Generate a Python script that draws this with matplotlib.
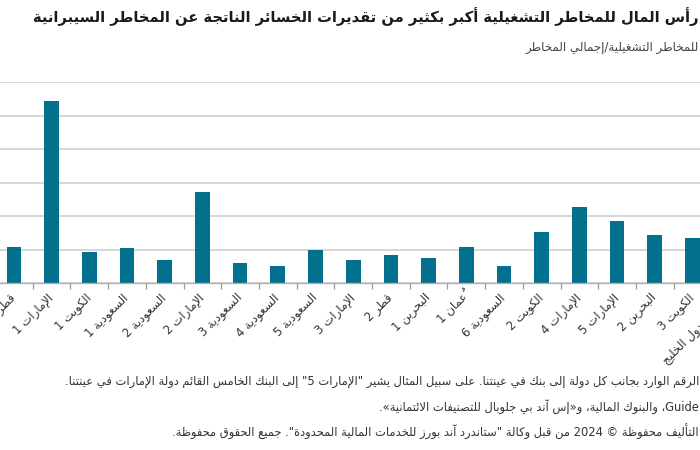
import re
import numpy as np
import matplotlib
matplotlib.use('Agg')
import matplotlib.pyplot as plt

# banks, left to right as in the chart
banks = ['قطر 1', 'الإمارات 1', 'الكويت 1', 'السعودية 1', 'السعودية 2', 'الإمارات 2',
         'السعودية 3', 'السعودية 4', 'السعودية 5', 'الإمارات 3', 'قطر 2', 'البحرين 1',
         'عُمان 1', 'السعودية 6', 'الكويت 2', 'الإمارات 4', 'الإمارات 5', 'البحرين 2',
         'الكويت 3', 'متوسط دول الخليج']
# operational risk / total risk (%)
ratio = [5.45, 27.1, 4.7, 5.25, 3.45, 13.6, 3.05, 2.55, 4.9, 3.4,
         4.15, 3.75, 5.45, 2.55, 7.6, 11.4, 9.25, 7.25, 6.7, 6.9]
y_ticks = [0, 5, 10, 15, 20, 25, 30]

title = 'رأس المال للمخاطر التشغيلية أكبر بكثير من تقديرات الخسائر الناتجة عن المخاطر السيبرانية'
subtitle = 'للمخاطر التشغيلية/إجمالي المخاطر'
notes = ['الرقم الوارد بجانب كل دولة إلى بنك في عينتنا. على سبيل المثال يشير "الإمارات 5" إلى البنك الخامس القائم دولة الإمارات في عينتنا.',
         'Guide، والبنوك المالية، و«إس آند بي جلوبال للتصنيفات الائتمانية».',
         'التأليف محفوظة © 2024 من قبل وكالة "ستاندرد آند بورز للخدمات المالية المحدودة". جميع الحقوق محفوظة.']

#### Arabic shaping + right-to-left order (matplotlib does neither)
ARABIC = 'ءآأؤإئابةتثجحخدذرزسشصضطظعغفقكلمنهوىي'
NFORMS = [1, 2, 2, 2, 2, 4, 2, 4, 2, 4, 4, 4, 4, 4, 2, 2, 2, 2,
          4, 4, 4, 4, 4, 4, 4, 4, 4, 4, 4, 4, 4, 4, 4, 2, 2, 4]
FORMS = {}
code = 0xFE80
for ch, n in zip(ARABIC, NFORMS):
    FORMS[ch] = (code, n)
    code += n
LAM_ALEF = {'آ': 0xFEF5, 'أ': 0xFEF7, 'إ': 0xFEF9, 'ا': 0xFEFB}
MARKS = ''.join(chr(c) for c in range(0x064B, 0x0653))
AR_RUN = re.compile('[\u0621-\u0652]+')
MIRROR = {'(': ')', ')': '(', '«': '»', '»': '«', '[': ']', ']': '['}


def joins_back(u):
    return u is not None and (u.startswith('LA') or (u in FORMS and FORMS[u][1] > 1))


def shape_units(w):
    units = []
    i = 0
    while i < len(w):
        ch = w[i]
        if ch in MARKS and units:
            units[-1][1] += ch
        elif ch == 'ل' and i + 1 < len(w) and w[i + 1] in LAM_ALEF:
            units.append(['LA' + w[i + 1], ''])
            i += 1
        else:
            units.append([ch, ''])
        i += 1
    out = []
    for k, (u, m) in enumerate(units):
        prev = units[k - 1][0] if k > 0 else None
        nxt = units[k + 1][0] if k + 1 < len(units) else None
        jp = prev in FORMS and FORMS[prev][1] == 4 and joins_back(u)
        if u.startswith('LA'):
            g = chr(LAM_ALEF[u[2]] + int(jp))
        elif u in FORMS:
            base, n = FORMS[u]
            jn = n == 4 and joins_back(nxt)
            if n == 1:
                g = chr(base)
            elif n == 2:
                g = chr(base + int(jp))
            else:
                g = chr(base + [[0, 2], [1, 3]][int(jp)][int(jn)])
        else:
            g = u
        out.append(g + m)
    return out


def clusters(seg):
    out = []
    pos = 0
    for mo in AR_RUN.finditer(seg):
        out += [MIRROR.get(c, c) for c in seg[pos:mo.start()]]
        out += shape_units(mo.group())
        pos = mo.end()
    out += [MIRROR.get(c, c) for c in seg[pos:]]
    return out


def rtl(s):
    # latin / digit runs stay left-to-right, the rest is laid out right-to-left
    parts = re.split(r'([A-Za-z0-9]+)', s)
    vis = [p if k % 2 else ''.join(reversed(clusters(p))) for k, p in enumerate(parts)]
    return ''.join(reversed(vis))


plt.rcParams['font.family'] = ['DejaVu Sans']

fig = plt.figure(figsize=(7, 4.5), dpi=100)
W, H = 700., 450.
pitch = 37.7
x0 = 13.9 - pitch / 2
ax = fig.add_axes([x0 / W, 1 - 283.3 / H, pitch * len(banks) / W, (283.3 - 82) / H])

x = np.arange(len(banks))
ax.bar(x, ratio, width=0.39, color='#03708d', zorder=3)
ax.set_xlim(-0.5, len(banks) - 0.5)
ax.set_ylim(y_ticks[0], y_ticks[-1])
ax.set_yticks(y_ticks)
ax.yaxis.grid(True, color='#d3d3d3', linewidth=1.3, zorder=0)
ax.tick_params(axis='y', length=0, labelleft=False)
for s in ['top', 'right', 'left']:
    ax.spines[s].set_visible(False)
ax.spines['bottom'].set_color('#b0b0b0')
ax.spines['bottom'].set_linewidth(1.0)
ax.spines['bottom'].set_zorder(4)

ax.set_xticks(x)
ax.set_xticklabels([rtl(b) for b in banks], rotation=45, ha='right', va='center',
                   rotation_mode='anchor', fontsize=8.5, color='#333333')
ax.tick_params(axis='x', which='major', length=0, pad=9)
ax.set_xticks(x[:-1] + 0.5, minor=True)
ax.tick_params(axis='x', which='minor', length=4, color='#9a9a9a', width=0.9)

fig.text(699 / W, 1 - 17 / H, rtl(title), ha='right', va='center',
         fontsize=10.6, fontweight='bold', color='#1a1a1a')
fig.text(699 / W, 1 - 47 / H, rtl(subtitle), ha='right', va='center',
         fontsize=8.6, color='#444444')
for yy, note in zip([381, 407, 432], notes):
    fig.text(699 / W, 1 - yy / H, rtl(note), ha='right', va='center',
             fontsize=8.3, color='#333333')

fig.savefig('out.png', dpi=100)
